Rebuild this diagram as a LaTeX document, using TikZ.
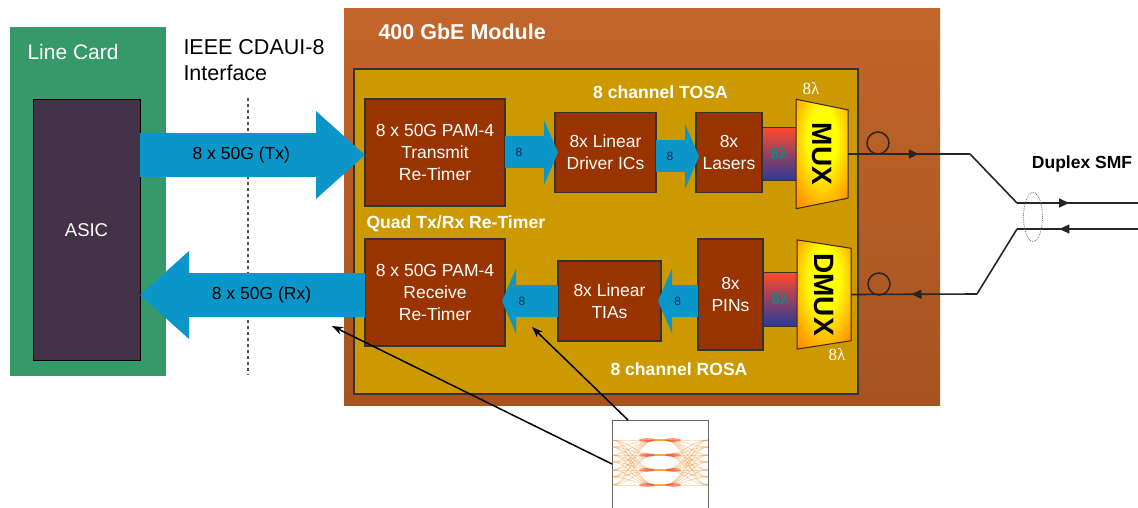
\documentclass[tikz,border=0pt]{standalone}
\usepackage{fontspec}
\setmainfont{Liberation Sans}
\newfontfamily\lamfont{Liberation Serif}
\usetikzlibrary{arrows.meta, positioning, shapes.geometric, decorations.markings}

\definecolor{cardgreen}{HTML}{35996A}
\definecolor{asicpurple}{HTML}{443348}
\definecolor{moduletop}{HTML}{C2662A}
\definecolor{modulebot}{HTML}{A6531F}
\definecolor{boardgold}{HTML}{CC9900}
\definecolor{chipbrown}{HTML}{993300}
\definecolor{flowblue}{HTML}{0A96C8}
\definecolor{darknavy}{HTML}{0B2A55}
\definecolor{wavetop}{HTML}{FF4A2A}
\definecolor{wavebot}{HTML}{2A3A9A}
\definecolor{waveteal}{HTML}{0F8A8A}
\definecolor{glowmid}{HTML}{FFA000}
\definecolor{glowout}{HTML}{FF4A10}

\pgfdeclareradialshading{muxglow}{\pgfpoint{0bp}{8bp}}{%
  color(0bp)=(yellow); color(14bp)=(yellow); color(32bp)=(glowmid);
  color(55bp)=(glowout); color(100bp)=(glowout)}

\begin{document}
\begin{tikzpicture}[x=1pt,y=-1pt,line width=1pt]

	\tikzset{
		chip/.style={
				rectangle, draw=black!80, line width=1.2pt, fill=chipbrown, text=white, align=center, outer sep=0pt,
				font=\fontsize{17.5}{21.8}\selectfont
			},
		title/.style={
				text=white, inner sep=0pt, font=\bfseries\fontsize{17.6}{21}\selectfont
			},
		wavebox/.style={
				rectangle, draw=black!80, top color=wavetop, bottom color=wavebot,
				outer sep=0pt, inner sep=0pt, text=waveteal, font=\lamfont\bfseries\fontsize{17}{17}\selectfont
			},
		muxer/.style={
				trapezium, rotate=-90, draw=black!70!brown, shading=muxglow, outer sep=0pt, inner sep=0pt,
				trapezium stretches=true, trapezium left angle=69, trapezium right angle=69,
				font=\bfseries\fontsize{28}{28}\selectfont
			},
		lamlabel/.style={
				text=white, inner sep=0pt, font=\lamfont\fontsize{17}{17}\selectfont
			},
		bigflow/.style={
				draw=flowblue, line width=44pt,
				-{Triangle[length=49pt,width=88pt,line width=0pt]}
			},
		smallflow/.style={
				draw=flowblue, line width=32pt, shorten >=-3pt,
				-{Triangle[length=14pt,width=65pt,line width=0pt]}
			},
		flowtext/.style={
				text=black, inner sep=0pt, font=\fontsize{17.5}{21}\selectfont
			},
		counttext/.style={
				text=darknavy, inner sep=0pt, font=\fontsize{12}{12}\selectfont
			},
		fiber/.style={
				draw=black!85, line width=1.6pt, postaction={decorate},
				decoration={markings, mark=at position #1 with {\arrow{Triangle[length=10pt,width=9pt]}}}
			},
		coil/.style={
				circle, draw=black!85, line width=1.5pt, minimum size=22pt, inner sep=0pt
			},
		pointer/.style={
				draw=black, line width=1.5pt, -{Stealth[length=11pt,width=8pt]}
			},
	}

	\useasboundingbox (0,0) rectangle (1138,508);

	% line card side
	\node[rectangle, fill=cardgreen, minimum width=156pt, minimum height=349pt, outer sep=0pt] (card) at (88,201.5) {};
	\node[rectangle, draw=black, fill=asicpurple, text=white, minimum width=107pt, minimum height=260pt, outer sep=0pt,
		font=\fontsize{18.5}{21}\selectfont] (asic) at (86.5,230) {ASIC};
	\node[text=white, inner sep=0pt, anchor=west, font=\fontsize{21}{24}\selectfont] (cardname) at (27,52) {Line Card};
	\node[text=black, inner sep=0pt, anchor=west, align=left, font=\fontsize{21.5}{26}\selectfont] (iface) at (183,60) {IEEE CDAUI-8\\Interface};
	\coordinate (ifacetop) at (248,98);
	\coordinate (ifacebot) at (248,375);
	\draw[black!70, dashed, line width=1.2pt] (ifacetop)--(ifacebot);

	% module and board
	\node[rectangle, top color=moduletop, bottom color=modulebot, minimum width=596pt, minimum height=396pt, outer sep=0pt] (module) at (642,207) {};
	\node[rectangle, draw=black!80, line width=1.2pt, fill=boardgold, minimum width=504pt, minimum height=325pt, outer sep=0pt] (board) at (606,231.5) {};
	\node[title, anchor=west, font=\bfseries\fontsize{21.5}{24}\selectfont] (modname) at (378,32) {400 GbE Module};
	\node[title] (tosaname) at (660.5,92) {8 channel TOSA};
	\node[title] (rosaname) at (679,369) {8 channel ROSA};
	\node[title, anchor=west] (retimername) at (366,224) {Quad Tx/Rx Re-Timer};

	% transmit row
	\node[chip, minimum width=140pt, minimum height=107pt] (txtimer) at (435,152.5) {8 x 50G PAM-4\\Transmit\\Re-Timer};
	\node[chip, right=50pt of txtimer, minimum width=101pt, minimum height=80pt] (driver) {8x Linear\\Driver ICs};
	\node[chip, right=40pt of driver, minimum width=66pt, minimum height=80pt] (lasers) {8x\\Lasers};
	\node[wavebox, right=0pt of lasers, minimum width=34pt, minimum height=53pt, yshift=-1.5pt] (txwave) {8λ};
	\node[muxer, minimum width=110pt, minimum height=52pt] (mux) at (822,154) {MUX};
	\node[lamlabel] (txlam) at (811,89) {8λ};

	% receive row
	\node[chip, minimum width=140pt, minimum height=107pt] (rxtimer) at (435,292.5) {8 x 50G PAM-4\\Receive\\Re-Timer};
	\node[chip, right=53pt of rxtimer, yshift=-8.5pt, minimum width=103pt, minimum height=80pt] (tia) {8x Linear\\TIAs};
	\node[chip, right=37pt of tia, yshift=6.5pt, minimum width=65pt, minimum height=111pt] (pins) {8x\\PINs};
	\node[wavebox, right=0pt of pins, minimum width=34pt, minimum height=54pt, yshift=-4.5pt] (rxwave) {8λ};
	\node[muxer, minimum width=110pt, minimum height=54pt] (dmux) at (824,294.5) {DMUX};
	\node[lamlabel] (rxlam) at (837,355) {8λ};

	% data paths
	\draw[bigflow] ([yshift=-2.5pt]asic.east |- txtimer.west)--([yshift=-2.5pt]txtimer.west) node[flowtext, pos=.45] (txrate) {8 x 50G (Tx)};
	\draw[bigflow] ([yshift=-2.5pt]rxtimer.west)--([yshift=-2.5pt]asic.east |- rxtimer.west) node[flowtext, pos=.46] (rxrate) {8 x 50G (Rx)};
	\draw[smallflow] (txtimer.east)--(driver.west) node[counttext, pos=.28] (txa) {8};
	\draw[smallflow] ([yshift=-4pt]driver.east)--([yshift=-4pt]lasers.west) node[counttext, pos=.35] (txb) {8};
	\draw[smallflow] (pins.west |- tia.east)--(tia.east) node[counttext, pos=.55] (rxb) {8};
	\draw[smallflow] (tia.west)--(rxtimer.east |- tia.west) node[counttext, pos=.68] (rxa) {8};

	% fibers
	\coordinate (txbend) at (970,154);
	\coordinate (txjoin) at (1017,203);
	\coordinate (txend) at (1138,203);
	\coordinate (rxbend) at (977,294);
	\coordinate (rxjoin) at (1017,229);
	\coordinate (rxstart) at (1138,229);
	\node[coil] (txcoil) at (878,143) {};
	\node[coil] (rxcoil) at (879,284) {};
	\draw[fiber=.58] (mux.north)--(txbend);
	\draw[draw=black!85, line width=1.6pt] (txbend)--(txjoin);
	\draw[fiber=.43] (txjoin)--(txend);
	\draw[fiber=.65] (rxstart)--(rxjoin);
	\draw[draw=black!85, line width=1.6pt] (rxjoin)--(rxbend);
	\draw[fiber=.52] (rxbend)--(dmux.north);
	\node[ellipse, draw=black!55, densely dotted, line width=.8pt, minimum width=19pt, minimum height=49pt, inner sep=0pt] (bundle) at (1033,217) {};
	\node[text=black, inner sep=0pt, font=\bfseries\fontsize{17.5}{21}\selectfont] (smfname) at (1082,164) {Duplex SMF};

	% eye diagram
	\node[rectangle, draw=black!60, fill=white, minimum width=96pt, minimum height=88pt, outer sep=0pt] (eye) at (660,464) {};
	\begin{scope}
		\clip (eye.north west) rectangle (eye.south east);
		\foreach \a in {440,455,470,485}{
			\foreach \b in {440,447,455,462,470,477,485}{
				\draw[orange!70!brown, opacity=.4, line width=.6pt] (612,\b) .. controls (628,\b) and (636,\a) .. (655,\a)--(665,\a) .. controls (684,\a) and (692,\b) .. (708,\b);
			}
			\fill[red!80!orange, opacity=.45] (647,\a) ellipse (8pt and 1.8pt);
			\fill[red!80!orange, opacity=.45] (673,\a) ellipse (8pt and 1.8pt);
			\fill[orange!60!yellow, opacity=.7] (660,\a) ellipse (5pt and .8pt);
		}
	\end{scope}
	\coordinate (rxpointa) at (332,326);
	\coordinate (rxpointb) at (532,327);
	\draw[pointer] (eye.west)--(rxpointa);
	\draw[pointer] ([xshift=-32pt]eye.north)--(rxpointb);

\end{tikzpicture}
\end{document}
